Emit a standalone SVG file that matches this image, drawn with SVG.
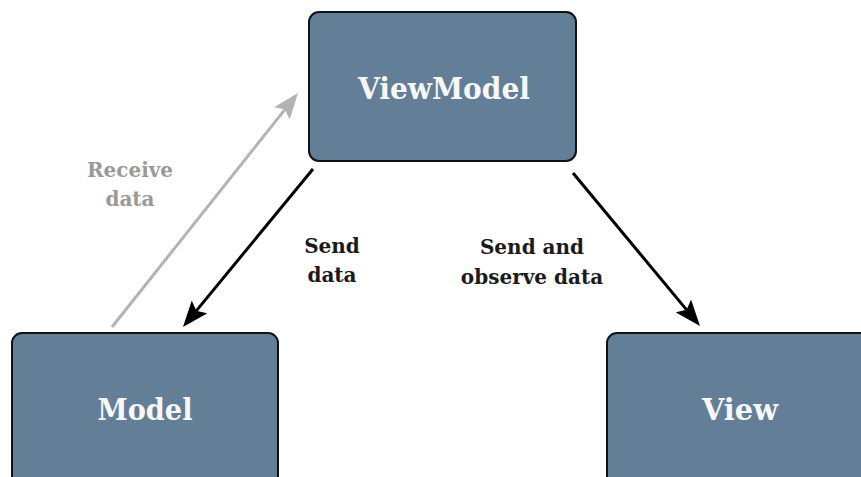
<svg xmlns="http://www.w3.org/2000/svg" width="861" height="477" viewBox="0 0 861 477">
  <style>
    .box { fill: #637f98; stroke: #111111; stroke-width: 2; }
    .title { font-family: "DejaVu Serif", "Liberation Serif", serif; font-weight: bold; font-size: 30px; fill: #f7f7f7; text-anchor: middle; }
    .lbl { font-family: "DejaVu Serif", "Liberation Serif", serif; font-weight: bold; font-size: 20px; fill: #1a1a1a; text-anchor: middle; }
    .lbl-muted { fill: #999999; }
    .edge { fill: none; stroke-width: 3; }
    .edge-dark { stroke: #000000; }
    .edge-light { stroke: #b3b3b3; }
  </style>
  <defs>
    <!-- notched arrowheads; the line ends 18px short of the tip -->
    <marker id="head-dark" markerUnits="userSpaceOnUse" markerWidth="26" markerHeight="20" refX="8" refY="10" orient="auto">
      <path d="M0,0 L26,10 L0,20 L5,10 z" fill="#000000"/>
    </marker>
    <marker id="head-light" markerUnits="userSpaceOnUse" markerWidth="26" markerHeight="20" refX="8" refY="10" orient="auto">
      <path d="M0,0 L26,10 L0,20 L5,10 z" fill="#b3b3b3"/>
    </marker>
  </defs>

  <rect width="861" height="477" fill="#ffffff"/>

  <g id="connectors">
    <path class="edge edge-light" d="M112,327 L286.8,107.1" marker-end="url(#head-light)"/>
    <path class="edge edge-dark" d="M313,169 L194.4,313.1" marker-end="url(#head-dark)"/>
    <path class="edge edge-dark" d="M573,173 L688.5,312.1" marker-end="url(#head-dark)"/>
    <text class="lbl lbl-muted" x="130" y="177">Receive</text>
    <text class="lbl lbl-muted" x="130" y="206">data</text>
    <text class="lbl" x="332" y="253">Send</text>
    <text class="lbl" x="332" y="282">data</text>
    <text class="lbl" x="532" y="254">Send and</text>
    <text class="lbl" x="532" y="284">observe data</text>
  </g>

  <g id="viewmodel">
    <rect class="box" x="309" y="12" width="267" height="149" rx="10"/>
    <text class="title" x="444" y="99" textLength="172" lengthAdjust="spacingAndGlyphs">ViewModel</text>
  </g>

  <g id="model">
    <rect class="box" x="12" y="333" width="266" height="160" rx="10"/>
    <text class="title" x="145" y="420" textLength="95" lengthAdjust="spacingAndGlyphs">Model</text>
  </g>

  <g id="view">
    <rect class="box" x="607" y="333" width="266" height="160" rx="10"/>
    <text class="title" x="740" y="420" textLength="76" lengthAdjust="spacingAndGlyphs">View</text>
  </g>
</svg>
